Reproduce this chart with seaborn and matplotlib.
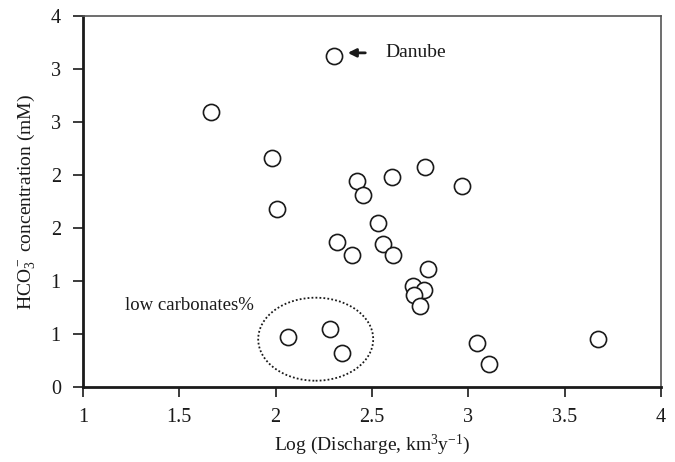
import matplotlib
matplotlib.use("Agg")
import matplotlib.pyplot as plt
import seaborn as sns
import pandas as pd
from matplotlib.patches import Ellipse

# Data
log_discharge = [2.301, 1.663, 1.982, 2.008, 2.420, 2.455, 2.602, 2.776, 2.968,
                 2.529, 2.320, 2.394, 2.557, 2.612, 2.792, 2.714, 2.770, 2.719,
                 2.749, 2.062, 2.282, 2.346, 3.043, 3.107, 3.673]
hco3 = [3.122, 2.589, 2.159, 1.682, 1.945, 1.811, 1.980, 2.077, 1.895,
        1.550, 1.365, 1.249, 1.349, 1.249, 1.117, 0.954, 0.919, 0.866,
        0.768, 0.471, 0.552, 0.320, 0.420, 0.222, 0.455]

x_ticks = [1, 1.5, 2, 2.5, 3, 3.5, 4]
x_tick_labels = ["1", "1.5", "2", "2.5", "3", "3.5", "4"]
y_ticks = [0, 0.5, 1.0, 1.5, 2.0, 2.5, 3.0, 3.5]
y_tick_labels = ["0", "1", "1", "2", "2", "3", "3", "4"]

df = pd.DataFrame({"logQ": log_discharge, "hco3": hco3})

sns.set_theme(style="white")
plt.rcParams["font.family"] = ["Liberation Serif", "DejaVu Serif"]
plt.rcParams["mathtext.fontset"] = "custom"
plt.rcParams["mathtext.rm"] = "Liberation Serif"
plt.rcParams["mathtext.it"] = "Liberation Serif:italic"
plt.rcParams["mathtext.default"] = "regular"

fig = plt.figure(figsize=(6.75, 4.62), dpi=100)
ax = fig.add_axes([0.123, 0.1617, 0.856, 0.8043])

sns.scatterplot(data=df, x="logQ", y="hco3", ax=ax, marker="o", s=135,
                facecolor="white", edgecolor="#1a1a1a", linewidth=1.2, zorder=3)

ax.set_xlim(1, 4)
ax.set_ylim(0, 3.5)
ax.set_xticks(x_ticks)
ax.set_xticklabels(x_tick_labels)
ax.set_yticks(y_ticks)
ax.set_yticklabels(y_tick_labels)
ax.tick_params(axis="both", direction="out", length=7, width=1.2, colors="#1a1a1a",
               labelsize=14.5, bottom=True, left=True)
ax.tick_params(axis="y", pad=9)
ax.tick_params(axis="x", pad=8)

for side in ["left", "bottom"]:
    ax.spines[side].set_linewidth(2.0)
    ax.spines[side].set_color("#1a1a1a")
for side in ["top", "right"]:
    ax.spines[side].set_linewidth(1.2)
    ax.spines[side].set_color("#555555")

ax.set_xlabel("Log (Discharge, km$^3$y$^{-1}$)", fontsize=14, color="#1a1a1a", labelpad=4)
ax.set_ylabel("HCO$_3^-$ concentration (mM)", fontsize=14, color="#1a1a1a", labelpad=10)

# Danube annotation
ax.annotate("", xy=(2.36, 3.15), xytext=(2.48, 3.15),
            arrowprops=dict(arrowstyle="-|>,head_length=0.4,head_width=0.2",
                            color="#1a1a1a", lw=2))
ax.text(2.57, 3.15, "Danube", fontsize=14, va="center", ha="left", color="#1a1a1a")

# low carbonates group
ell = Ellipse((2.208, 0.453), 0.597, 0.782, fill=False, linestyle=(0, (1, 1.2)),
              edgecolor="#1a1a1a", linewidth=1.3, zorder=2)
ax.add_patch(ell)
ax.text(1.218, 0.766, "low carbonates%", fontsize=13.5, va="center", ha="left",
        color="#1a1a1a")

fig.savefig("out.png", dpi=100)
